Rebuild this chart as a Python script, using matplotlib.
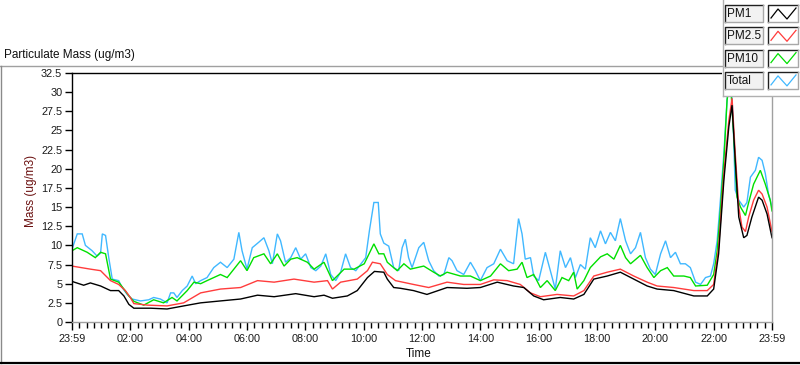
import numpy as np
import matplotlib
matplotlib.use('Agg')
import matplotlib.pyplot as plt
from matplotlib.patches import Rectangle

plt.rcParams['font.family'] = ['Liberation Sans', 'DejaVu Sans']

# ── readings: (hours after 23:59, ug/m3) ─────────────────────────────────────
pm1 = [(0, 5.3), (0.4, 4.8), (0.63, 5.1), (0.98, 4.7), (1.32, 4.1), (1.6, 4.1),
       (1.78, 3.4), (1.95, 2.3), (2.12, 1.8), (2.7, 1.8), (3.26, 1.7), (3.83, 2.1),
       (4.41, 2.5), (5.09, 2.75), (5.78, 3.0), (6.36, 3.5), (6.93, 3.3), (7.67, 3.7),
       (8.3, 3.3), (8.64, 3.5), (8.93, 3.1), (9.44, 3.4), (9.78, 4.1), (10.13, 5.8),
       (10.37, 6.6), (10.69, 6.5), (10.81, 5.6), (11.03, 4.5), (11.26, 4.4), (11.71, 4.1),
       (12.17, 3.6), (12.86, 4.5), (13.54, 4.4), (14.0, 4.5), (14.58, 5.2), (15.14, 4.7),
       (15.49, 4.5), (15.83, 3.4), (16.17, 2.9), (16.74, 3.2), (17.2, 3.0), (17.55, 3.6),
       (17.89, 5.6), (18.35, 6.0), (18.8, 6.5), (19.26, 5.6), (19.72, 4.7), (20.06, 4.3),
       (20.63, 4.1), (21.32, 3.4), (21.78, 3.4), (22.0, 4.3), (22.17, 8.9), (22.35, 18.5),
       (22.52, 25.5), (22.63, 28.3), (22.74, 21.1), (22.86, 13.7), (23.03, 11.0),
       (23.14, 11.3), (23.31, 13.7), (23.54, 16.3), (23.66, 15.9), (23.83, 14.1), (24.0, 11.0)]

pm25 = [(0, 7.3), (0.63, 6.9), (0.98, 6.7), (1.32, 5.4), (1.6, 4.9), (1.83, 4.1),
        (2.0, 3.2), (2.12, 2.4), (2.6, 2.2), (3.26, 2.1), (3.83, 2.5), (4.41, 3.8),
        (5.09, 4.3), (5.78, 4.5), (6.36, 5.4), (6.93, 5.2), (7.61, 5.6), (8.3, 5.2),
        (8.76, 5.4), (8.93, 4.3), (9.21, 5.2), (9.78, 5.6), (10.13, 6.7), (10.3, 7.8),
        (10.57, 7.6), (10.81, 6.2), (11.09, 5.4), (11.71, 4.9), (12.23, 4.5), (12.86, 5.2),
        (13.43, 4.9), (14.0, 4.9), (14.46, 5.5), (14.92, 5.4), (15.37, 4.9), (15.72, 3.8),
        (16.06, 3.3), (16.63, 3.6), (17.2, 3.4), (17.55, 4.1), (17.89, 6.0), (18.35, 6.5),
        (18.8, 6.9), (19.26, 6.0), (19.72, 5.2), (20.06, 4.7), (20.63, 4.5), (21.32, 4.1),
        (21.78, 4.1), (22.0, 4.9), (22.17, 9.7), (22.35, 19.4), (22.52, 26.3), (22.63, 29.2),
        (22.74, 22.0), (22.86, 15.0), (22.97, 12.4), (23.09, 11.8), (23.2, 13.7),
        (23.37, 15.9), (23.54, 17.2), (23.66, 16.7), (23.83, 15.0), (24.0, 11.8)]

pm10 = [(0, 9.3), (0.18, 9.7), (0.52, 9.1), (0.8, 8.4), (0.98, 9.1), (1.15, 8.9),
        (1.32, 5.6), (1.6, 5.2), (1.78, 4.3), (1.95, 3.4), (2.12, 2.7), (2.46, 2.2),
        (2.8, 2.9), (3.14, 2.5), (3.43, 3.2), (3.6, 2.75), (3.95, 4.1), (4.18, 5.2),
        (4.41, 5.0), (4.63, 5.4), (4.86, 5.8), (5.09, 6.2), (5.32, 5.8), (5.55, 6.9),
        (5.78, 8.0), (6.0, 6.7), (6.23, 8.4), (6.58, 8.9), (6.81, 7.6), (7.04, 8.9),
        (7.27, 7.3), (7.5, 8.2), (7.72, 8.4), (8.07, 7.8), (8.3, 6.9), (8.64, 7.8),
        (8.93, 5.4), (9.33, 6.9), (9.67, 6.9), (10.02, 7.6), (10.35, 10.2), (10.52, 8.9),
        (10.69, 8.9), (10.81, 7.8), (11.15, 6.7), (11.38, 7.6), (11.6, 6.9), (12.06, 7.3),
        (12.4, 6.5), (12.63, 6.0), (12.86, 6.5), (13.32, 6.0), (13.66, 6.0), (14.0, 5.4),
        (14.35, 6.0), (14.69, 7.6), (14.97, 6.7), (15.26, 6.9), (15.43, 7.8), (15.6, 5.8),
        (15.83, 6.2), (16.06, 4.5), (16.29, 5.4), (16.57, 4.1), (16.8, 5.8), (17.03, 5.4),
        (17.2, 6.5), (17.32, 4.3), (17.55, 5.4), (17.77, 7.1), (18.12, 8.5), (18.35, 8.9),
        (18.58, 8.2), (18.8, 10.0), (18.98, 8.4), (19.15, 7.6), (19.49, 8.7), (19.72, 7.1),
        (19.95, 5.8), (20.18, 6.7), (20.41, 7.1), (20.63, 6.0), (20.98, 6.0), (21.2, 5.8),
        (21.38, 4.7), (21.78, 4.8), (22.0, 6.2), (22.12, 9.3), (22.23, 14.5), (22.35, 21.1),
        (22.46, 29.0), (22.57, 31.6), (22.69, 24.2), (22.8, 16.3), (22.92, 15.0),
        (23.09, 13.9), (23.2, 15.6), (23.37, 18.0), (23.6, 19.8), (23.77, 18.0),
        (23.94, 15.9), (24.0, 14.5)]

total = [(0, 9.5), (0.18, 11.5), (0.35, 11.5), (0.46, 10.0), (0.69, 9.3), (0.86, 8.6),
         (0.98, 9.0), (1.04, 11.5), (1.15, 11.3), (1.26, 8.4), (1.38, 5.6), (1.6, 5.4),
         (1.72, 4.5), (1.89, 3.6), (2.06, 3.0), (2.35, 2.75), (2.63, 2.9), (2.8, 3.2),
         (3.03, 3.0), (3.26, 2.5), (3.38, 3.8), (3.49, 3.8), (3.6, 3.2), (3.78, 4.1),
         (3.95, 4.7), (4.12, 6.0), (4.24, 5.0), (4.41, 5.4), (4.63, 5.8), (4.86, 7.1),
         (5.09, 7.8), (5.32, 7.1), (5.55, 8.2), (5.72, 11.7), (5.83, 9.3), (6.0, 6.9),
         (6.18, 9.7), (6.4, 10.4), (6.58, 11.0), (6.75, 9.3), (6.87, 7.6), (7.04, 11.5),
         (7.15, 10.6), (7.32, 7.8), (7.5, 8.4), (7.67, 9.7), (7.84, 8.2), (8.01, 8.9),
         (8.19, 7.1), (8.36, 6.7), (8.53, 7.3), (8.7, 8.9), (8.87, 6.2), (9.04, 5.4),
         (9.21, 6.5), (9.38, 8.9), (9.55, 7.1), (9.73, 6.7), (9.95, 7.8), (10.07, 8.4),
         (10.2, 12.0), (10.35, 15.6), (10.5, 15.6), (10.57, 11.5), (10.69, 10.3),
         (10.86, 9.9), (11.03, 7.1), (11.2, 6.7), (11.32, 9.7), (11.43, 10.8), (11.54, 8.4),
         (11.66, 7.1), (11.89, 9.7), (12.06, 10.4), (12.23, 8.0), (12.4, 6.7), (12.58, 6.0),
         (12.75, 6.2), (12.92, 8.4), (13.03, 8.0), (13.2, 6.7), (13.43, 6.2), (13.66, 7.8),
         (13.83, 6.7), (14.0, 5.4), (14.23, 7.1), (14.46, 7.6), (14.69, 9.5), (14.92, 8.0),
         (15.14, 7.6), (15.31, 13.5), (15.43, 11.5), (15.54, 8.2), (15.72, 8.4), (15.83, 6.0),
         (16.0, 5.4), (16.23, 9.1), (16.4, 6.7), (16.57, 4.3), (16.74, 9.3), (16.92, 7.1),
         (17.09, 8.4), (17.26, 5.8), (17.43, 7.5), (17.6, 6.9), (17.77, 11.0), (17.94, 9.7),
         (18.12, 11.9), (18.29, 10.2), (18.46, 11.7), (18.63, 10.6), (18.8, 13.5),
         (18.98, 10.6), (19.15, 8.9), (19.32, 9.7), (19.49, 11.7), (19.66, 8.4), (19.83, 6.9),
         (20.0, 6.2), (20.18, 8.9), (20.35, 10.6), (20.52, 8.4), (20.69, 9.1), (20.86, 7.6),
         (21.03, 7.6), (21.2, 7.1), (21.38, 5.2), (21.55, 4.9), (21.72, 5.8), (21.89, 6.0),
         (22.0, 7.6), (22.12, 10.6), (22.23, 15.9), (22.35, 22.0), (22.46, 29.0),
         (22.56, 34.0), (22.66, 27.0), (22.74, 17.2), (22.86, 15.9), (23.03, 15.0),
         (23.14, 15.6), (23.26, 18.9), (23.43, 19.8), (23.54, 21.5), (23.66, 21.1),
         (23.77, 19.4), (23.88, 16.7), (24.0, 15.0)]

series_names = ['PM1', 'PM2.5', 'PM10', 'Total']
series_data = [pm1, pm25, pm10, total]
series_colors = ['#000000', '#ff3c3c', '#00e000', '#40b8ff']

tick_hours = list(range(0, 25, 2))
tick_labels = ['23:59', '02:00', '04:00', '06:00', '08:00', '10:00', '12:00',
               '14:00', '16:00', '18:00', '20:00', '22:00', '23:59']
y_ticks = np.arange(0, 32.6, 2.5)

# ── figure ───────────────────────────────────────────────────────────────────
W, H = 800, 365
fig = plt.figure(figsize=(W / 100, H / 100), dpi=100)
fig.patch.set_facecolor('white')

ax = fig.add_axes([72 / W, (H - 322) / H, 700 / W, (322 - 73) / H])
for name, data, col in reversed(list(zip(series_names, series_data, series_colors))):
    t, v = zip(*data)
    ax.plot(t, v, color=col, lw=1.0, solid_joinstyle='miter')

ax.set_xlim(0, 24)
ax.set_ylim(0, 32.5)
ax.set_xticks(tick_hours)
ax.set_xticklabels(tick_labels)
ax.set_xticks(np.arange(0, 24.01, 0.25), minor=True)
ax.set_yticks(y_ticks)
ax.set_yticklabels([f'{v:g}' for v in y_ticks])
ax.tick_params(axis='both', which='major', direction='out', length=5, width=1,
               color='black', labelsize=7.8, labelcolor='#1a1a1a', pad=2)
ax.tick_params(axis='x', which='major', length=6, pad=3)
ax.tick_params(axis='x', which='minor', direction='out', length=4, width=1, color='black')

ax.spines['left'].set_color('black')
ax.spines['top'].set_color('black')
ax.spines['right'].set_color('#a0a0a0')
ax.spines['bottom'].set_color('#a0a0a0')
for s in ax.spines.values():
    s.set_linewidth(1.0)

# ── overlay in pixel coordinates: frame, texts, legend ──────────────────────
ov = fig.add_axes([0, 0, 1, 1], zorder=10)
ov.set_xlim(0, W)
ov.set_ylim(H, 0)
ov.axis('off')

ov.plot([0, 722], [66, 66], color='#a0a0a0', lw=1.0)
ov.plot([0.5, 0.5], [66, 363], color='#8a8a8a', lw=1.0)
ov.plot([0, W], [363, 363], color='black', lw=1.6)

ov.text(4, 55, 'Particulate Mass (ug/m3)', fontsize=8.5, va='center', ha='left', color='#111111')
ov.text(31, 191, 'Mass (ug/m3)', fontsize=8.5, rotation=90, va='center', ha='center', color='#6b1010')
ov.text(419, 354, 'Time', fontsize=8.5, va='center', ha='center', color='#111111')

# legend panel
ov.add_patch(Rectangle((722, 0), 80, 96, facecolor='white', edgecolor='none'))
ov.plot([722.5, 722.5], [0, 96], color='#b0b0b0', lw=1.0)
ov.plot([722.5, W], [96, 96], color='#b0b0b0', lw=1.0)

for i, (name, col) in enumerate(zip(series_names, series_colors)):
    top = 5 + i * 22.3
    for x0, w, bg in [(725, 38, '#f2f2f2'), (768, 30, 'white')]:
        ov.add_patch(Rectangle((x0, top), w, 17, facecolor=bg, edgecolor='none'))
        ov.plot([x0, x0, x0 + w], [top + 17, top, top], color='#202020', lw=1.0)
        ov.plot([x0, x0 + w, x0 + w], [top + 17, top + 17, top], color='#a8a8a8', lw=1.0)
    ov.text(727, top + 9, name, fontsize=8.5, va='center', ha='left', color='#111111')
    ov.plot([771, 778, 787, 796], [top + 13, top + 4, top + 14, top + 3], color=col, lw=0.9)

fig.savefig('out.png', dpi=100, facecolor=fig.get_facecolor())
